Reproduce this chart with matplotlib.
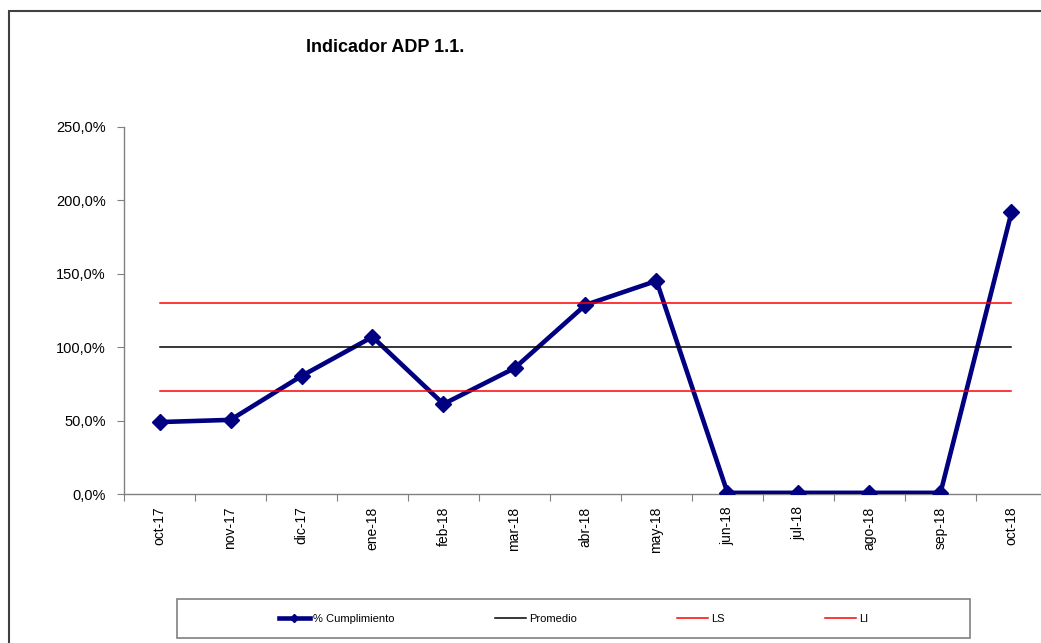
import matplotlib
matplotlib.use('Agg')
import matplotlib.pyplot as plt
from matplotlib.patches import Rectangle
from matplotlib.ticker import FuncFormatter

# Data
months = ['oct-17', 'nov-17', 'dic-17', 'ene-18', 'feb-18', 'mar-18', 'abr-18',
          'may-18', 'jun-18', 'jul-18', 'ago-18', 'sep-18', 'oct-18']
cumplimiento = [49.0, 50.5, 80.4, 107.0, 61.3, 85.7, 128.8, 145.2, 0.8, 0.8, 0.8, 0.8, 191.9]
promedio = [100.0] * len(months)
ls = [130.0] * len(months)
li = [70.0] * len(months)

plt.rcParams['font.family'] = ['Liberation Sans', 'DejaVu Sans']

W, H = 1041, 643
fig = plt.figure(figsize=(W / 100, H / 100), dpi=100)

# outer frame of the chart area
fig.patches.append(Rectangle((9 / W, -0.05), 1.1, 1 - 11 / H + 0.05, transform=fig.transFigure,
                             fill=False, edgecolor='#404040', linewidth=1.5))

ax = fig.add_axes([124 / W, 149 / H, 923 / W, 367 / H])
x = list(range(len(months)))

ax.plot(x, cumplimiento, color='#000080', linewidth=3.3, marker='D', markersize=8,
        label='% Cumplimiento', zorder=3)
ax.plot(x, promedio, color='black', linewidth=1.1, label='Promedio', zorder=4)
ax.plot(x, ls, color='#FF0000', linewidth=1.1, label='LS', zorder=4)
ax.plot(x, li, color='#FF0000', linewidth=1.1, label='LI', zorder=4)

ax.set_xlim(-0.5, len(months) - 0.5)
ax.set_ylim(0, 250)
ax.set_yticks([0, 50, 100, 150, 200, 250])
ax.yaxis.set_major_formatter(FuncFormatter(lambda v, p: f'{v:.1f}%'.replace('.', ',')))

# category labels centered, ticks between categories
ax.set_xticks([i - 0.5 for i in range(len(months) + 1)])
ax.set_xticklabels([])
ax.set_xticks(x, minor=True)
ax.set_xticklabels(months, minor=True, rotation=90, fontsize=10)
ax.tick_params(axis='x', which='minor', length=0, pad=9)
ax.tick_params(axis='x', which='major', direction='out', length=5, color='#808080')
ax.tick_params(axis='y', direction='out', length=5, color='#808080', labelsize=10.5, pad=8)

for side in ['top', 'right']:
    ax.spines[side].set_visible(False)
for side in ['left', 'bottom']:
    ax.spines[side].set_color('#808080')
    ax.spines[side].set_linewidth(1.0)

fig.text(385 / W, 1 - 48 / H, 'Indicador ADP 1.1.', fontsize=13, fontweight='bold',
         ha='center', va='center')

# legend
fig.patches.append(Rectangle((177 / W, 1 - 638 / H), 793 / W, 39 / H, transform=fig.transFigure,
                             fill=False, edgecolor='#808080', linewidth=1.2))
fig.legend(loc='center', bbox_to_anchor=(573.5 / W, 1 - 618.5 / H), ncol=4, frameon=False,
           fontsize=8, handlelength=2.8, handletextpad=0.3, columnspacing=9.0, markerscale=0.55)

fig.savefig('out.png', dpi=100)
